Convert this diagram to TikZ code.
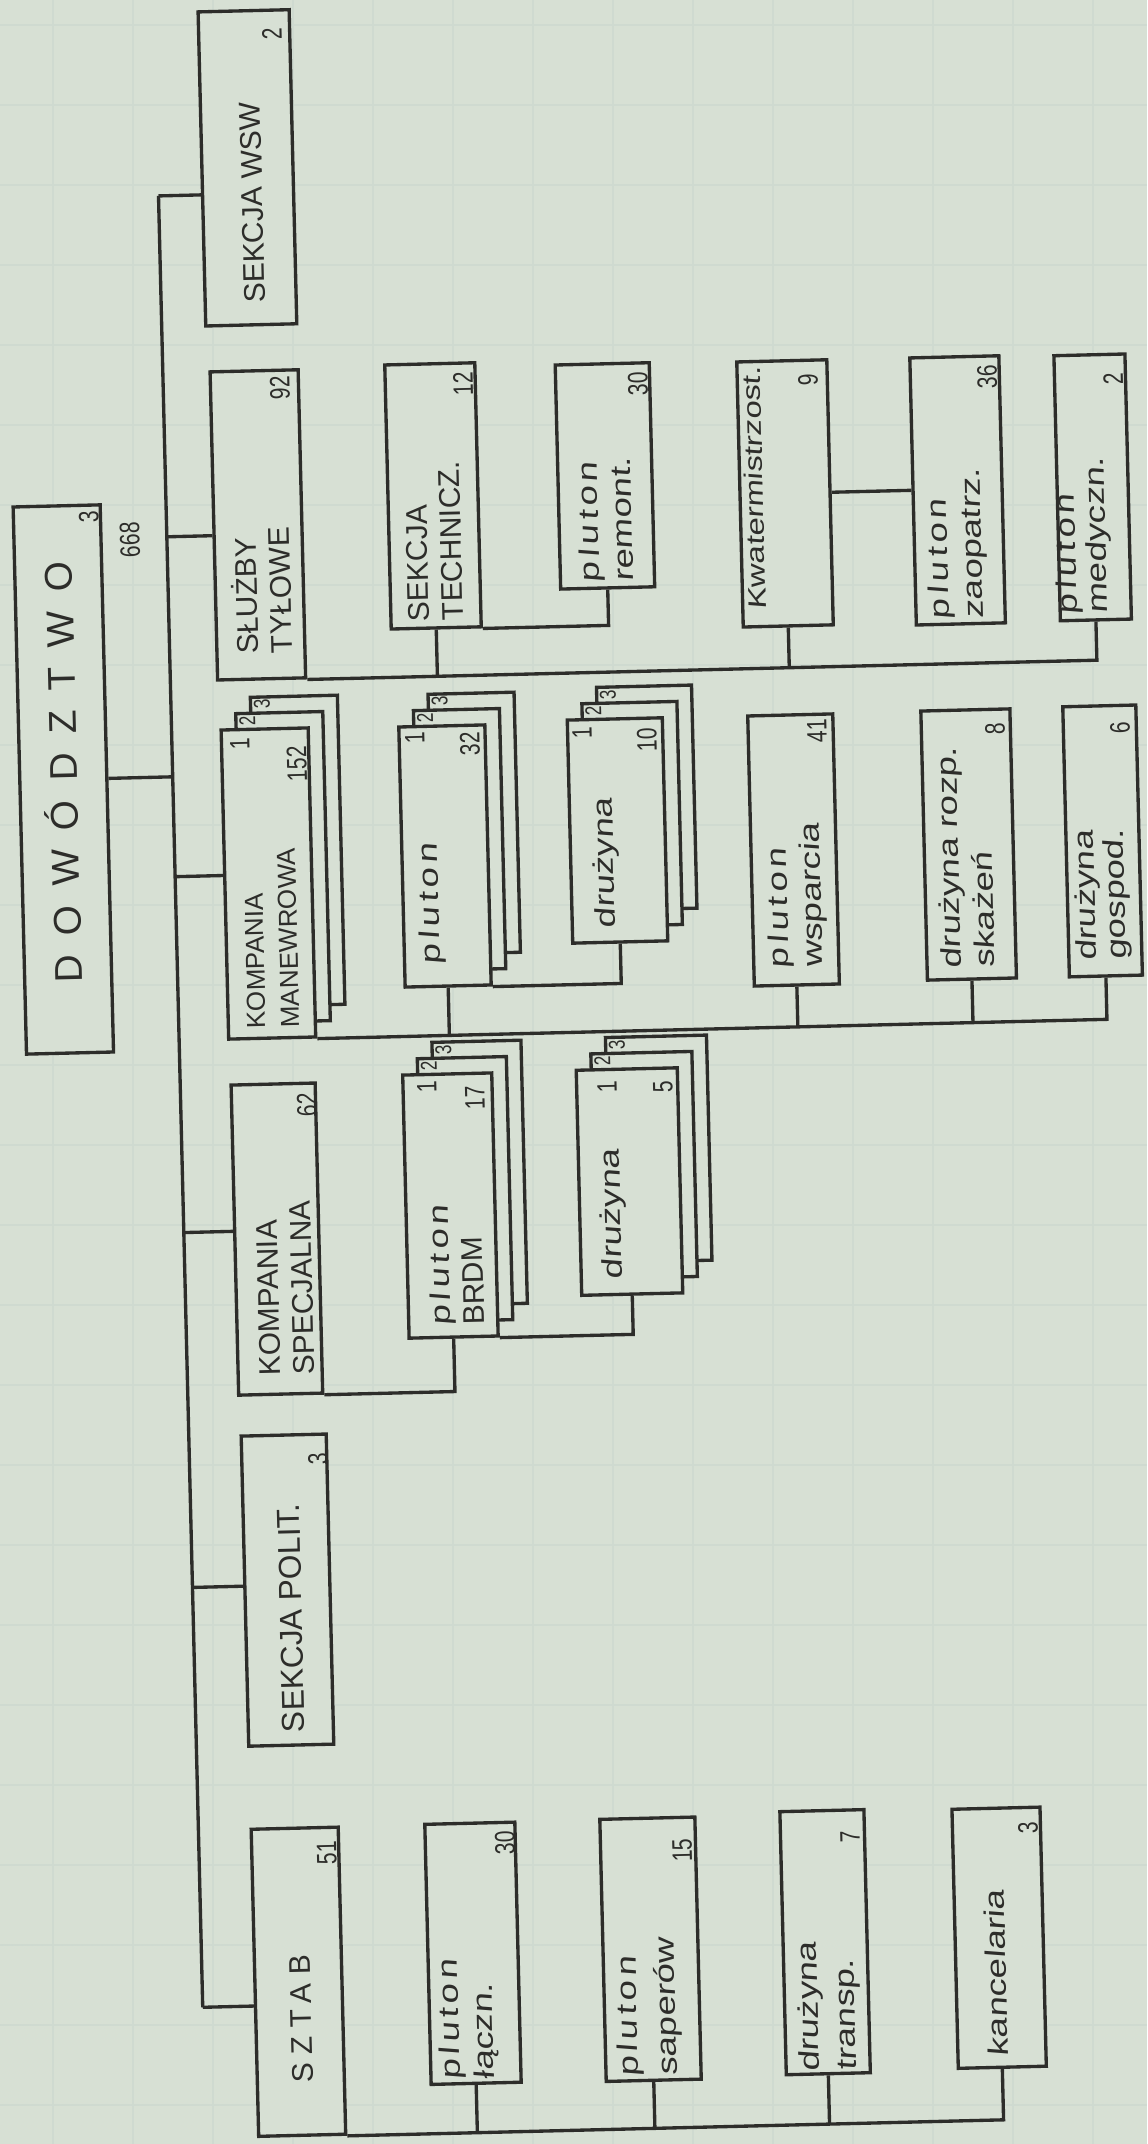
\documentclass[tikz,border=0pt]{standalone}
\usepackage{fontspec}
\setmainfont{Liberation Sans}
\newfontfamily\capsf{Liberation Sans}
\newfontfamily\dowf[LetterSpace=50]{Liberation Sans}
\newfontfamily\sztabf[LetterSpace=28]{Liberation Sans}
\newfontfamily\handf[FakeStretch=1.3,FakeSlant=0.1]{Liberation Sans}
\newfontfamily\handpf[FakeStretch=1.3,FakeSlant=0.1,LetterSpace=15]{Liberation Sans}
\newfontfamily\numf[FakeStretch=0.75]{Liberation Sans}
\usetikzlibrary{calc}
\definecolor{paper}{RGB}{215,224,212}
\definecolor{gridc}{RGB}{207,218,208}
\definecolor{ink}{RGB}{45,45,42}
\newcommand\capsz{\capsf\fontsize{8.5}{9.6}\selectfont}
\newcommand\handsz{\handf\fontsize{8}{9.6}\selectfont}
\newcommand\plut{{\handpf\fontsize{8}{9.6}\selectfont pluton}}
\begin{document}
\begin{tikzpicture}[x=0.01cm,y=-0.01cm,
  ln/.style={draw=ink,line width=0.95pt},
  box/.style 2 args={draw=ink,line width=0.95pt,fill=paper,inner sep=0pt,minimum width=#1,minimum height=#2},
  lab/.style={rotate=90,anchor=west,inner sep=0pt,align=left,text=ink},
  num/.style={rotate=90,inner sep=0pt,text=ink,font=\numf\fontsize{8}{9}\selectfont},
  tabn/.style={rotate=90,inner sep=0pt,text=ink,font=\numf\fontsize{6.5}{7}\selectfont}]
\fill[paper] (0,0) rectangle (1147,2144);
\useasboundingbox (0,0) rectangle (1147,2144);
% faint graph-paper grid
\foreach \gx in {53,133,...,1133} \draw[gridc,line width=0.5pt] (\gx,0) -- (\gx,2144);
\foreach \gy in {25,105,...,2105} \draw[gridc,line width=0.5pt] (0,\gy) -- (1147,\gy);
\begin{scope}[transform canvas={rotate around={1.4:(573,1072)}}]
% ---------- level 0
\node[box={0.87cm}{5.47cm}] (dow) at (70.6,767.1) {};
\node[rotate=90,inner sep=0pt,text=ink,font=\dowf\fontsize{11}{12}\selectfont] (dowt) at (68,760) {DOWÓDZTWO};
\node[num] (down) at (102.5,505.2) {3};
\node[num] (dowsum) at (143,529) {668};
% ---------- level 1
\node[box={0.91cm}{3.14cm}] (wsw) at (269.6,160.1) {};
\node[lab,font=\capsz] (wswt) at (273.7,296.2) {SEKCJA WSW};
\node[num] (wswn) at (297.3,26.7) {2};

\node[box={0.88cm}{3.08cm}] (sluzby) at (271.3,517.3) {};
\node[lab,font=\capsz] (sluzbyt) at (273,647) {SŁUŻBY\\TYŁOWE};
\node[num] (sluzbyn) at (296.7,380.9) {92};

\node[box={0.87cm}{3.09cm}] (kman-c3) at (303.1,844.1) {};
\node[box={0.87cm}{3.09cm}] (kman-c2) at (288.1,860.1) {};
\node[box={0.87cm}{3.09cm}] (kman) at (273.1,876.1) {};
\node[lab,font=\capsf\fontsize{7.4}{9.6}\selectfont] (kmant) at (275,1021.7) {KOMPANIA\\MANEWROWA};
\node[num] (kman1) at (248,736) {1};
\node[num] (kmann) at (304.5,757.3) {152};
\node[tabn] (kman2n) at ($(kman-c2.north west)+(13,9)$) {2};
\node[tabn] (kman3n) at ($(kman-c3.north west)+(13,9)$) {3};

\node[box={0.84cm}{3.10cm}] (kspec) at (272.9,1231.8) {};
\node[lab,font=\capsz] (kspect) at (280,1369) {KOMPANIA\\SPECJALNA};
\node[num] (kspecn) at (306.2,1098.5) {62};

\node[box={0.85cm}{3.10cm}] (polit) at (274.9,1583) {};
\node[lab,font=\capsf\fontsize{9}{10}\selectfont] (politt) at (278,1726) {SEKCJA POLIT.};
\node[num] (politn) at (308.6,1452.8) {3};

\node[box={0.87cm}{3.07cm}] (sztab) at (276.3,1974.8) {};
\node[lab,font=\sztabf\fontsize{8.5}{9.6}\selectfont] (sztabt) at (278.3,2076.4) {SZTAB};
\node[num] (sztabn) at (307.9,1847) {51};
% ---------- bus
\coordinate (bT) at (180,186);
\coordinate (bB) at (180,1998);
\coordinate (b2) at (180,527);
\coordinate (b3) at (180,867);
\coordinate (b4) at (180,1223);
\coordinate (b5) at (180,1578);
\draw[ln] (bT) -- (bB);
\draw[ln] (dow.east) -- (dow.east -| bT);
\draw[ln] (bT) -- (bT -| wsw.west);
\draw[ln] (b2) -- (b2 -| sluzby.west);
\draw[ln] (b3) -- (b3 -| kman.west);
\draw[ln] (b4) -- (b4 -| kspec.west);
\draw[ln] (b5) -- (b5 -| polit.west);
\draw[ln] (bB) -- (bB -| sztab.west);
% ---------- sluzby tylowe
\node[box={0.90cm}{2.64cm}] (techn) at (447.1,492.6) {};
\node[lab,font=\capsz] (technt) at (447,618.3) {SEKCJA\\TECHNICZ.};
\node[num] (technn) at (479.8,381.3) {12};

\node[box={0.94cm}{2.24cm}] (remont) at (619.5,476.8) {};
\node[lab,font=\handsz] (remontt) at (618.4,583.8) {\plut\\remont.};
\node[num] (remontn) at (654.8,385.6) {30};

\node[box={0.90cm}{2.65cm}] (kwat) at (799.1,498.7) {};
\node[lab,font=\handf\fontsize{7.2}{9}\selectfont] (kwatt) at (768.2,615.5) {Kwatermistrzost.};
\node[num] (kwatn) at (824.9,385.7) {9};

\node[box={0.89cm}{2.67cm}] (zaop) at (971.7,499.9) {};
\node[lab,font=\handsz] (zaopt) at (970,629.4) {\plut\\zaopatrz.};
\node[num] (zaopn) at (1004,387.1) {36};

\node[box={0.71cm}{2.65cm}] (medycz) at (1106.8,500.2) {};
\node[lab,font=\handf\fontsize{8}{8.6}\selectfont] (medyczt) at (1096.2,627.5) {\plut\\medyczn.};
\node[num] (medyczn) at (1129.9,392.2) {2};

\draw[ln] (sluzby.south east) -| (medycz.south);
\draw[ln] (techn.south) -- (techn.south |- sluzby.south east);
\draw[ln] (kwat.south) -- (kwat.south |- sluzby.south east);
\draw[ln] (techn.south east) -| (remont.south);
\draw[ln] (kwat.east) -- (kwat.east -| zaop.west);
% ---------- kompania manewrowa
\node[box={0.86cm}{2.60cm}] (pl32-c3) at (480.3,820.9) {};
\node[box={0.86cm}{2.60cm}] (pl32-c2) at (465.3,836.9) {};
\node[box={0.86cm}{2.60cm}] (pl32) at (450.3,852.9) {};
\node[lab,font=\handsz] (pl32t) at (435.6,961.6) {\plut};
\node[num] (pl321) at (423.1,734.1) {1};
\node[num] (pl32n) at (478,741.5) {32};
\node[tabn] (pl322n) at ($(pl32-c2.north west)+(13,9)$) {2};
\node[tabn] (pl323n) at ($(pl32-c3.north west)+(13,9)$) {3};

\node[box={0.95cm}{2.23cm}] (dr10-c3) at (653.4,799.6) {};
\node[box={0.95cm}{2.23cm}] (dr10-c2) at (638.4,815.6) {};
\node[box={0.95cm}{2.23cm}] (dr10) at (623.4,831.6) {};
\node[lab,font=\handsz] (dr10t) at (611.5,929.9) {drużyna};
\node[num] (dr101) at (590.3,733.2) {1};
\node[num] (dr10n) at (655.1,741.8) {10};
\node[tabn] (dr102n) at ($(dr10-c2.north west)+(13,9)$) {2};
\node[tabn] (dr103n) at ($(dr10-c3.north west)+(13,9)$) {3};

\node[box={0.85cm}{2.70cm}] (wsparcia) at (798.9,855.4) {};
\node[lab,font=\handsz] (wsparciat) at (801,974.5) {\plut\\wsparcia};
\node[num] (wsparcian) at (825.3,737) {41};

\node[box={0.89cm}{2.69cm}] (rozp) at (974.1,854.2) {};
\node[lab,font=\handsz] (rozpt) at (970.5,978.6) {drużyna rozp.\\skażeń};
\node[num] (rozpn) at (1003.4,739.3) {8};

\node[box={0.73cm}{2.70cm}] (gospod) at (1108.1,853.9) {};
\node[lab,font=\handf\fontsize{8}{8.4}\selectfont] (gospodt) at (1106.7,974) {drużyna\\gospod.};
\node[num] (gospodn) at (1128.4,741.3) {6};

\draw[ln] (kman.south east) -| (gospod.south);
\draw[ln] (pl32.south) -- (pl32.south |- kman.south east);
\draw[ln] (wsparcia.south) -- (wsparcia.south |- kman.south east);
\draw[ln] (rozp.south) -- (rozp.south |- kman.south east);
\draw[ln] (pl32.south east) -| (dr10.south);
% ---------- kompania specjalna
\node[box={0.89cm}{2.63cm}] (brdm-c3) at (477.2,1170.5) {};
\node[box={0.89cm}{2.63cm}] (brdm-c2) at (462.2,1186.5) {};
\node[box={0.89cm}{2.63cm}] (brdm) at (447.2,1202.5) {};
\node[lab,font=\handsz] (brdmt) at (451.3,1323.2) {\plut\\{\capsz BRDM}};
\node[num] (brdm1) at (426.6,1083.4) {1};
\node[num] (brdmn) at (474.4,1095.6) {17};
\node[tabn] (brdm2n) at ($(brdm-c2.north west)+(13,9)$) {2};
\node[tabn] (brdm3n) at ($(brdm-c3.north west)+(13,9)$) {3};

\node[box={1.01cm}{2.25cm}] (dr5-c3) at (656.8,1150.9) {};
\node[box={1.01cm}{2.25cm}] (dr5-c2) at (641.8,1166.9) {};
\node[box={1.01cm}{2.25cm}] (dr5) at (626.8,1182.9) {};
\node[lab,font=\handsz] (dr5t) at (609.9,1281) {drużyna};
\node[num] (dr51) at (606.6,1087.8) {1};
\node[num] (dr5n) at (662.6,1089.2) {5};
\node[tabn] (dr52n) at ($(dr5-c2.north west)+(13,9)$) {2};
\node[tabn] (dr53n) at ($(dr5-c3.north west)+(13,9)$) {3};

\draw[ln] (kspec.south east) -| (brdm.south);
\draw[ln] (brdm.south east) -| (dr5.south);
% ---------- sztab
\node[box={0.90cm}{2.60cm}] (laczn) at (451.5,1950.6) {};
\node[lab,font=\handsz] (lacznt) at (445.4,2077.5) {\plut\\łączn.};
\node[num] (lacznn) at (486.2,1841.3) {30};

\node[box={0.95cm}{2.62cm}] (saper) at (629.1,1950.9) {};
\node[lab,font=\handf\fontsize{8}{11}\selectfont] (sapert) at (626,2078.9) {\plut\\saperów};
\node[num] (sapern) at (663.2,1852.7) {15};

\node[box={0.84cm}{2.63cm}] (transp) at (803.8,1948.1) {};
\node[lab,font=\handf\fontsize{8}{10.5}\selectfont] (transpt) at (806.1,2078.3) {drużyna\\transp.};
\node[num] (transpn) at (831.3,1843.8) {7};

\node[box={0.88cm}{2.59cm}] (kanc) at (977.9,1947.9) {};
\node[lab,font=\handsz] (kanct) at (974,2067.4) {kancelaria};
\node[num] (kancn) at (1009.6,1839.1) {3};

\draw[ln] (sztab.south east) -| (kanc.south);
\draw[ln] (laczn.south) -- (laczn.south |- sztab.south east);
\draw[ln] (saper.south) -- (saper.south |- sztab.south east);
\draw[ln] (transp.south) -- (transp.south |- sztab.south east);
\end{scope}
\end{tikzpicture}
\end{document}
